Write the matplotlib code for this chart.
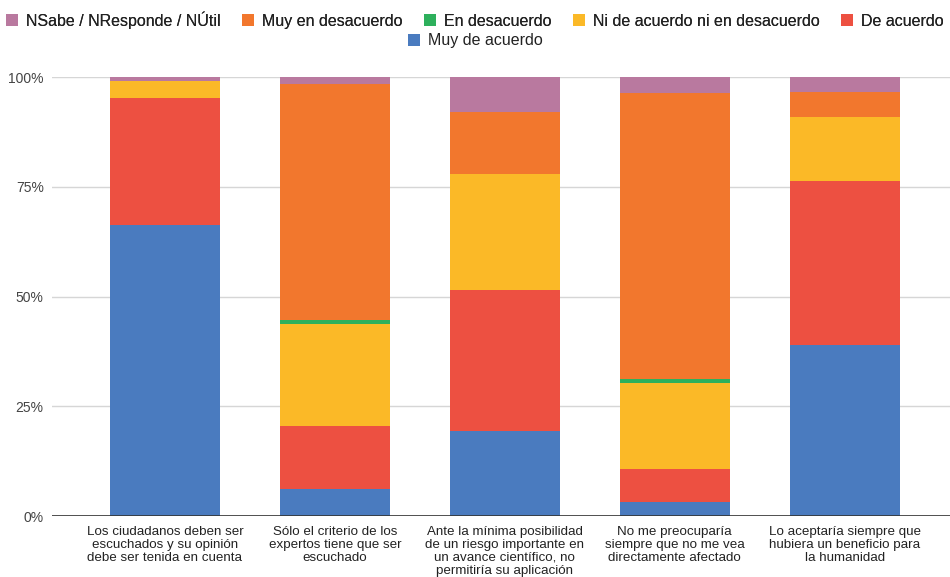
import matplotlib
matplotlib.use("Agg")
import matplotlib.pyplot as plt
from matplotlib.patches import Patch
import numpy as np

plt.rcParams["font.family"] = ["Liberation Sans", "DejaVu Sans"]

# --- data (percent of answers per statement) ---
categories = [
    "Los ciudadanos deben ser\nescuchados y su opinión\ndebe ser tenida en cuenta",
    "Sólo el criterio de los\nexpertos tiene que ser\nescuchado",
    "Ante la mínima posibilidad\nde un riesgo importante en\nun avance científico, no\npermitiría su aplicación",
    "No me preocuparía\nsiempre que no me vea\ndirectamente afectado",
    "Lo aceptaría siempre que\nhubiera un beneficio para\nla humanidad",
]
muy_de_acuerdo = [66.3, 6.2, 19.4, 3.1, 39.0]
de_acuerdo = [28.9, 14.3, 32.1, 7.5, 37.2]
ni_ni = [3.9, 23.2, 26.5, 19.6, 14.7]
en_desacuerdo = [0.0, 0.9, 0.0, 1.0, 0.0]
muy_en_desacuerdo = [0.0, 53.8, 14.1, 65.2, 5.7]
nsnr = [0.9, 1.6, 7.9, 3.6, 3.4]

series = [
    ("Muy de acuerdo", muy_de_acuerdo, "#4a7bbf"),
    ("De acuerdo", de_acuerdo, "#ed5041"),
    ("Ni de acuerdo ni en desacuerdo", ni_ni, "#fbb927"),
    ("En desacuerdo", en_desacuerdo, "#2eb05c"),
    ("Muy en desacuerdo", muy_en_desacuerdo, "#f2772d"),
    ("NSabe / NResponde / NÚtil", nsnr, "#b9799f"),
]

W, H = 950, 577
fig = plt.figure(figsize=(W / 100, H / 100), dpi=100)
ax = fig.add_axes([52 / W, (H - 516) / H, (950 - 52) / W, (516 - 77) / H])

x = np.arange(len(categories))
bottom = np.zeros(len(categories))
for name, vals, col in series:
    vals = np.array(vals)
    ax.bar(x, vals, bottom=bottom, width=0.647, color=col, edgecolor="none",
           zorder=3)
    bottom += vals

ax.set_xlim(-0.665, 4.62)
ax.set_ylim(0, 100)
ax.set_yticks([0, 25, 50, 75, 100])
ax.set_yticklabels(["0%", "25%", "50%", "75%", "100%"])
ax.yaxis.grid(True, color="#d6d6d6", linewidth=1, zorder=0)
ax.axhline(0, color="#333333", linewidth=1.2, zorder=4)
for s in ax.spines.values():
    s.set_visible(False)
ax.tick_params(axis="y", length=0, pad=6, labelsize=10, labelcolor="#444444")
ax.tick_params(axis="x", length=0, pad=7)
ax.set_xticks(x)
ax.set_xticklabels(categories, fontsize=9.6, color="#222222", linespacing=1.12,
                   va="top")

# legend: five entries on the first row, the last one centred below
order = [5, 4, 3, 2, 1]
handles1 = [Patch(facecolor=series[i][2], edgecolor="none") for i in order]
labels1 = [series[i][0] for i in order]
leg1 = fig.legend(handles1, labels1, loc="center", bbox_to_anchor=(0.5, 1 - 20 / H),
                  ncol=5, frameon=False, fontsize=11.5, handlelength=0.75,
                  handleheight=0.75, handletextpad=0.5, columnspacing=1.35,
                  labelcolor="#222222")
fig.add_artist(leg1)
fig.legend([Patch(facecolor=series[0][2], edgecolor="none")], [series[0][0]],
           loc="center", bbox_to_anchor=(0.5, 1 - 41 / H), frameon=False,
           fontsize=11.5, handlelength=0.75, handleheight=0.75,
           handletextpad=0.5, labelcolor="#222222")

fig.savefig("out.png", dpi=100, facecolor="white")
